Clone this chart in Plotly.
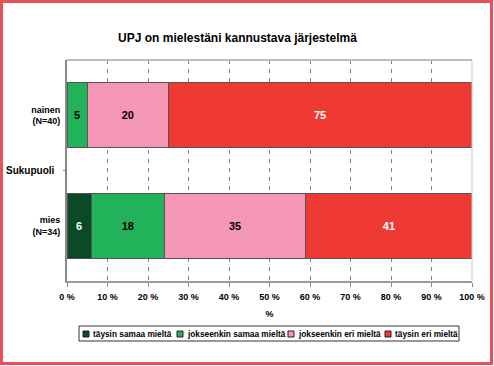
import plotly.graph_objects as go

categories = ["mies<br>(N=34)", "nainen<br>(N=40)"]
series_names = ["täysin samaa mieltä", "jokseenkin samaa mieltä", "jokseenkin eri mieltä", "täysin eri mieltä"]
mies_values = [6, 18, 35, 41]
nainen_values = [0, 5, 20, 75]
tick_vals = [0, 10, 20, 30, 40, 50, 60, 70, 80, 90, 100]
tick_text = [f"{v} %" for v in tick_vals]

colors = ["#0b4a27", "#22b25a", "#f497b6", "#ee3a33"]
text_colors = ["white", "black", "black", "white"]

L, R, T, B = 67, 22, 60, 85
W, H = 494, 366
pw, ph = W - L - R, H - T - B


def px_x(x):
    return (x - L) / pw


def px_y(y):
    return (ph - (y - T)) / ph


fig = go.Figure()
for i, name in enumerate(series_names):
    vals = [mies_values[i], nainen_values[i]]
    fig.add_trace(go.Bar(
        y=categories, x=vals, name=name, orientation="h",
        marker=dict(color=colors[i], line=dict(color="#555555", width=1)),
        text=[f"<b>{v}</b>" if v > 0 else "" for v in vals],
        textposition="inside", insidetextanchor="middle",
        textfont=dict(family="Liberation Sans", size=11, color=text_colors[i]),
        constraintext="none", showlegend=False,
    ))

fig.update_layout(
    width=W, height=H, barmode="stack", bargap=0.41,
    margin=dict(l=L, r=R, t=T, b=B, autoexpand=False),
    paper_bgcolor="white", plot_bgcolor="white",
    font=dict(family="Liberation Sans", size=9, color="black"),
    title=dict(text="<b>UPJ on mielestäni kannustava järjestelmä</b>",
               x=237.5 / W, xanchor="center", y=1 - 38 / H, yanchor="middle",
               font=dict(size=12)),
    xaxis=dict(range=[0, 100], tickvals=tick_vals,
               ticktext=[f"<b>{t}</b>" for t in tick_text],
               tickfont=dict(size=9, family="Liberation Sans"),
               showgrid=True, gridcolor="#808080", griddash="4px,5px", gridwidth=1,
               ticks="outside", ticklen=4, tickcolor="#888888", ticklabelstandoff=2,
               showline=True, linecolor="#999999", linewidth=2,
               title=dict(text="<b>%</b>", font=dict(size=9), standoff=10),
               zeroline=False, fixedrange=True, automargin=False),
    yaxis=dict(categoryorder="array", categoryarray=categories,
               tickvals=categories, ticktext=[f"<b>{c}</b>" for c in categories],
               tickfont=dict(size=9), ticks="", showline=True, ticklabelstandoff=3,
               linecolor="#888888", linewidth=2, showgrid=False, fixedrange=True,
               automargin=False),
    showlegend=False,
)

# y-axis title
fig.add_annotation(text="<b>Sukupuoli</b>", xref="paper", yref="paper",
                   x=px_x(4), xanchor="left", y=0.5, yanchor="middle",
                   showarrow=False, font=dict(size=10))
# tick mark at the category boundary
fig.add_shape(type="line", xref="paper", yref="paper", x0=px_x(63), x1=px_x(67),
              y0=0.5, y1=0.5, line=dict(color="#888888", width=1))
# plot area top/right borders
fig.add_shape(type="line", xref="paper", yref="paper", x0=0, x1=1, y0=1, y1=1,
              line=dict(color="#bbbbbb", width=2))
fig.add_shape(type="line", xref="paper", yref="paper", x0=1, x1=1, y0=0, y1=1,
              line=dict(color="#cccccc", width=1))

# legend (drawn manually to match the compact original)
fig.add_shape(type="rect", xref="paper", yref="paper",
              x0=px_x(79), x1=px_x(459), y0=px_y(341), y1=px_y(326),
              line=dict(color="#333333", width=1), fillcolor="white")
legend_x = [83, 177, 288, 385]
for i, name in enumerate(series_names):
    x0 = legend_x[i]
    fig.add_shape(type="rect", xref="paper", yref="paper",
                  x0=px_x(x0), x1=px_x(x0 + 6), y0=px_y(337), y1=px_y(331),
                  line=dict(color="#222222", width=1), fillcolor=colors[i])
    fig.add_annotation(text=f"<b>{name}</b>", xref="paper", yref="paper",
                       x=px_x(x0 + 8), xanchor="left", y=px_y(334), yanchor="middle",
                       showarrow=False, font=dict(size=8.3))

# outer red frame
fig.add_shape(type="rect", xref="paper", yref="paper",
              x0=px_x(1.5), x1=px_x(491.5), y0=px_y(363.5), y1=px_y(1.5),
              line=dict(color="#e8505a", width=3), fillcolor="rgba(0,0,0,0)")

fig.write_html("out.html", config={"displayModeBar": False},
               post_script="document.body.style.margin='0';")
